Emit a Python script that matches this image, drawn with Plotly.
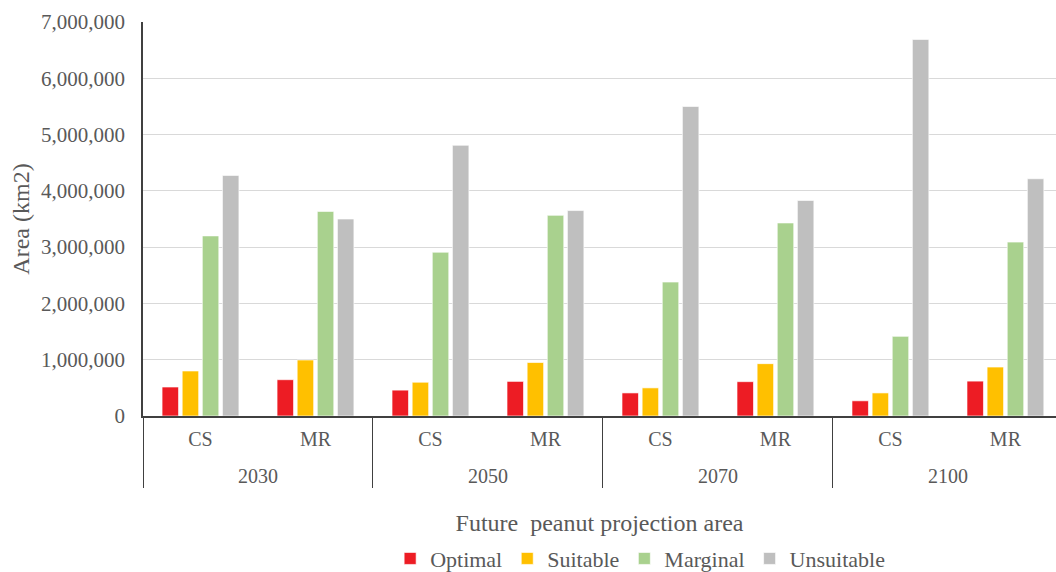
import plotly.graph_objects as go

# Projection years and climate models (two-level category axis)
years = ["2030", "2030", "2050", "2050", "2070", "2070", "2100", "2100"]
models = ["CS", "MR", "CS", "MR", "CS", "MR", "CS", "MR"]

# Suitability class areas in km2
optimal = [515000, 645000, 460000, 615000, 410000, 610000, 270000, 620000]
suitable = [800000, 995000, 600000, 950000, 500000, 930000, 410000, 870000]
marginal = [3200000, 3635000, 2910000, 3565000, 2380000, 3430000, 1415000, 3090000]
unsuitable = [4275000, 3500000, 4810000, 3650000, 5500000, 3830000, 6690000, 4215000]

series = [
    ("Optimal", optimal, "#ED1C24"),
    ("Suitable", suitable, "#FFC000"),
    ("Marginal", marginal, "#A9D18E"),
    ("Unsuitable", unsuitable, "#BFBFBF"),
]

font_family = "Liberation Serif, serif"
text_color = "#595959"

# Inner labels get a tall non-breaking space on each side, which gives the
# first label row extra height so the year row sits lower beneath it.
pad = "<span style='font-size:35px'>\u00a0</span>"
model_labels = [f"{pad}{m}{pad}" for m in models]

fig = go.Figure()
for name, vals, color in series:
    fig.add_trace(go.Bar(
        x=[years, model_labels],
        y=vals,
        name=name,
        marker=dict(color=color, line=dict(color="rgba(255,255,255,0.8)", width=0.8)),
    ))

fig.update_layout(
    width=1056,
    height=572,
    margin=dict(l=143, r=0, t=22, b=156, autoexpand=False),
    paper_bgcolor="white",
    plot_bgcolor="white",
    barmode="group",
    bargap=0.3,
    bargroupgap=0.18,
    font=dict(family=font_family, color=text_color, size=20),
    showlegend=True,
    legend=dict(
        orientation="h",
        x=0.5445,
        xanchor="center",
        y=-0.362,
        yanchor="middle",
        font=dict(family=font_family, size=22, color=text_color),
        itemwidth=30,
        traceorder="normal",
    ),
)

fig.update_xaxes(
    type="multicategory",
    range=[-0.5, 7.44],
    showline=True,
    linecolor="#404040",
    linewidth=1.5,
    showdividers=True,
    dividercolor="#404040",
    dividerwidth=1.2,
    ticklabelstandoff=4,
    tickfont=dict(family=font_family, size=20, color=text_color),
    showgrid=False,
    title=dict(text="Future  peanut projection area",
               font=dict(family=font_family, size=24, color=text_color), standoff=28),
)

fig.update_yaxes(
    range=[0, 7000000],
    dtick=1000000,
    tickformat=",",
    showgrid=True,
    gridcolor="#D9D9D9",
    gridwidth=1,
    showline=True,
    linecolor="#404040",
    linewidth=1.5,
    zeroline=False,
    ticks="",
    ticklabelstandoff=12,
    tickfont=dict(family=font_family, size=21, color=text_color),
    title=dict(text="Area (km2)", font=dict(family=font_family, size=24, color=text_color), standoff=5),
)

fig.write_html("out.html")
